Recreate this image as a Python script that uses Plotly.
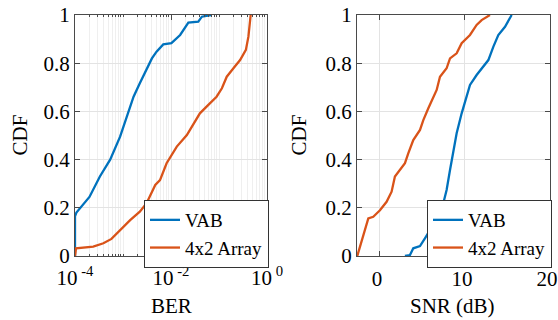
import plotly.graph_objects as go

# ---- data ----
ber_vab_x = [1.0e-4, 1.0e-4, 1.07e-4, 2.0e-4, 3.3e-4, 5.4e-4, 8.7e-4, 1.2e-3, 1.66e-3, 2.24e-3,
             3.1e-3, 4.0e-3, 5.0e-3, 6.9e-3, 1.02e-2, 1.55e-2, 2.3e-2, 3.7e-2, 4.4e-2, 6.8e-2]
ber_vab_y = [0.0, 0.165, 0.18, 0.245, 0.33, 0.40, 0.495, 0.578, 0.661, 0.717,
             0.772, 0.820, 0.848, 0.878, 0.883, 0.917, 0.968, 0.972, 0.993, 1.0]

ber_arr_x = [1.0e-4, 1.05e-4, 2.4e-4, 3.9e-4, 5.75e-4, 8.7e-4, 1.41e-3, 2.24e-3, 3.1e-3, 4.7e-3,
             5.9e-3, 8.1e-3, 1.32e-2, 2.14e-2, 2.9e-2, 4.0e-2, 6.0e-2, 8.9e-2, 0.115, 0.145,
             0.2, 0.275, 0.363, 0.41, 0.457]
ber_arr_y = [0.0, 0.032, 0.039, 0.053, 0.071, 0.108, 0.149, 0.184, 0.219, 0.295,
             0.315, 0.385, 0.454, 0.502, 0.544, 0.592, 0.627, 0.661, 0.696, 0.744,
             0.779, 0.813, 0.855, 0.910, 1.0]

snr_vab_x = [2.94, 3.53, 3.92, 4.71, 5.29, 5.88, 6.86, 7.45, 7.84, 8.24, 8.63, 9.02, 9.61,
             10.2, 10.59, 11.37, 12.16, 12.75, 13.33, 13.92, 14.71, 15.49]
snr_vab_y = [0.0, 0.004, 0.032, 0.041, 0.073, 0.108, 0.163, 0.219, 0.274, 0.357, 0.426, 0.509,
             0.592, 0.668, 0.71, 0.751, 0.786, 0.813, 0.868, 0.917, 0.951, 1.0]

snr_arr_x = [-2.67, -1.37, -0.79, 0.0, 0.78, 1.37, 1.76, 2.35, 2.94, 3.33, 3.92, 4.71, 5.1,
             5.69, 6.27, 6.67, 7.06, 7.84, 8.24, 9.02, 9.61, 10.59, 11.37, 11.96, 12.94]
snr_arr_y = [0.0, 0.156, 0.163, 0.19, 0.225, 0.267, 0.33, 0.357, 0.385, 0.426, 0.481, 0.523,
             0.564, 0.613, 0.654, 0.689, 0.744, 0.779, 0.82, 0.841, 0.883, 0.917, 0.959, 0.979, 1.0]

series_names = ["VAB", "4x2 Array"]
y_ticks = [0, 0.2, 0.4, 0.6, 0.8, 1]
y_ticktext = ["0", "0.2", "0.4", "0.6", "0.8", "1"]
ber_ticks = [1e-4, 1e-2, 1]
ber_ticktext = ["10<sup> -4</sup>", "10<sup> -2</sup>", "10<sup> 0</sup>"]
snr_ticks = [0, 10, 20]

BLUE = "#0072BD"
ORANGE = "#D95319"
FONT = "Liberation Serif"

W, H = 558, 320


def px(x):
    return x / W


def py(y):
    return 1 - y / H


minor_vals = [m * 10 ** e for e in range(-4, 0) for m in range(1, 10)]

fig = go.Figure()
fig.add_trace(go.Scatter(x=ber_vab_x, y=ber_vab_y, mode="lines", name=series_names[0],
                         line=dict(color=BLUE, width=2.3), xaxis="x", yaxis="y", legend="legend"))
fig.add_trace(go.Scatter(x=ber_arr_x, y=ber_arr_y, mode="lines", name=series_names[1],
                         line=dict(color=ORANGE, width=2.3), xaxis="x", yaxis="y", legend="legend"))
fig.add_trace(go.Scatter(x=snr_vab_x, y=snr_vab_y, mode="lines", name=series_names[0],
                         line=dict(color=BLUE, width=2.3), xaxis="x2", yaxis="y2", legend="legend2"))
fig.add_trace(go.Scatter(x=snr_arr_x, y=snr_arr_y, mode="lines", name=series_names[1],
                         line=dict(color=ORANGE, width=2.3), xaxis="x2", yaxis="y2", legend="legend2"))

axcommon = dict(showline=True, linecolor="#4a4a4a", linewidth=1, mirror="ticks",
                ticks="inside", ticklen=5, tickcolor="#4a4a4a", automargin=False,
                gridcolor="#e3e3e3", gridwidth=1, zeroline=False,
                ticklabeloverflow="allow",
                tickfont=dict(family=FONT, size=21, color="black"))

legcommon = dict(xanchor="left", yanchor="top",
                 bgcolor="white", bordercolor="#333333", borderwidth=1,
                 font=dict(family=FONT, size=19, color="black"),
                 tracegroupgap=0, itemwidth=30)

fig.update_layout(
    width=W, height=H, autosize=False,
    margin=dict(l=0, r=0, t=0, b=0, pad=0),
    paper_bgcolor="white", plot_bgcolor="white",
    font=dict(family=FONT, size=21, color="black"),
    xaxis=dict(domain=[px(75), px(267)], type="log", range=[-4, 0], anchor="y",
               tickmode="array", tickvals=ber_ticks, ticktext=ber_ticktext,
               ticklabelstandoff=3,
               minor=dict(tickmode="array", tickvals=minor_vals, showgrid=True,
                          gridcolor="#efefef", ticks="inside", ticklen=2, tickcolor="#4a4a4a"),
               **axcommon),
    yaxis=dict(domain=[py(256), py(15)], range=[0, 1], anchor="x",
               tickmode="array", tickvals=y_ticks, ticktext=y_ticktext, **axcommon),
    xaxis2=dict(domain=[px(357), px(550)], range=[-2.7, 20], anchor="y2",
                tickmode="array", tickvals=snr_ticks, ticklabelstandoff=4,
                ticklabelshift=-3, **axcommon),
    yaxis2=dict(domain=[py(256), py(15)], range=[0, 1], anchor="x2",
                tickmode="array", tickvals=y_ticks, ticktext=y_ticktext, **axcommon),
    legend=dict(x=px(144), y=py(200), **legcommon),
    legend2=dict(x=px(427), y=py(200), **legcommon),
    showlegend=True,
)

annot = dict(showarrow=False, xref="paper", yref="paper", xanchor="center", yanchor="middle",
             font=dict(family=FONT, size=21, color="black"))
fig.add_annotation(text="CDF", x=px(19), y=py(135.5), textangle=-90, **annot)
fig.add_annotation(text="CDF", x=px(298), y=py(135.5), textangle=-90, **annot)
fig.add_annotation(text="BER", x=px(171), y=py(306), **annot)
fig.add_annotation(text="SNR (dB)", x=px(452), y=py(306), **annot)

# remove the browser's default 8px page margin so the figure sits at (0, 0)
fig.write_html("out.html", config={"displayModeBar": False},
               post_script="document.body.style.margin='0';")
